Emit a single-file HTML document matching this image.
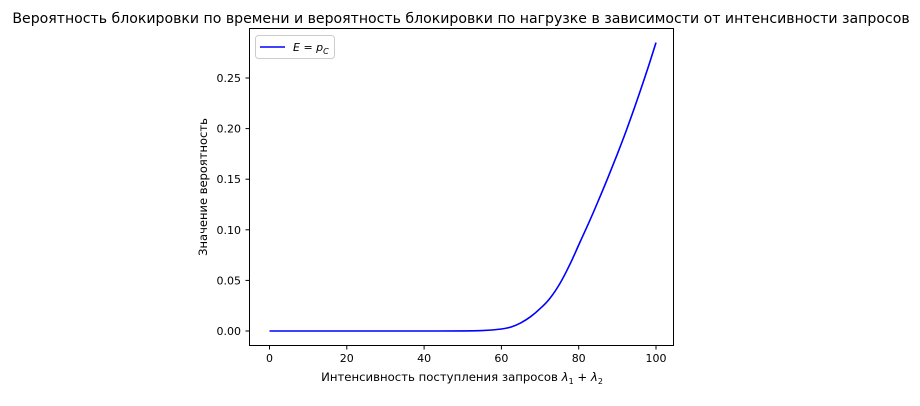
<!DOCTYPE html>
<html><head><meta charset="utf-8"><style>
body{margin:0;background:#fff;font-family:"Liberation Sans","DejaVu Sans",sans-serif}
svg text{font-family:"DejaVu Sans","Liberation Sans",sans-serif;fill:#000}
</style></head><body>
<svg width="920" height="401" xmlns="http://www.w3.org/2000/svg">
<text x="461" y="23" font-size="14.1" text-anchor="middle">Вероятность блокировки по времени и вероятность блокировки по нагрузке в зависимости от интенсивности запросов</text>
<g id="axes"></g>
<path id="line" fill="none" stroke="#0000ff" stroke-width="1.6"/>
<rect x="249.5" y="28.5" width="424" height="317" fill="none" stroke="#000" stroke-width="1"/>
<g>
<rect x="255.5" y="35.5" width="79" height="23" rx="3" fill="#fff" stroke="#ccc"/>
<line x1="260" y1="47" x2="285" y2="47" stroke="#0000ff" stroke-width="1.6"/>
<text x="293" y="51" font-size="11" font-style="italic">E = p<tspan font-size="8" dy="3">C</tspan></text>
</g>
<text x="462" y="381" font-size="11.7" text-anchor="middle">Интенсивность поступления запросов <tspan font-style="italic">λ</tspan><tspan font-size="8" dy="3">1</tspan><tspan dy="-3"> + </tspan><tspan font-style="italic">λ</tspan><tspan font-size="8" dy="3">2</tspan></text>
<text transform="translate(207,187) rotate(-90)" font-size="11.5" text-anchor="middle">Значение вероятность</text>
</svg>
<script>
const xs=[0,10,20,30,40,50,55,60,62.5,65,67.5,70,72.5,75,77.5,80,82.5,85,87.5,90,92.5,95,97.5,100];
const ys=[0,0,0,0,0,0.00005,0.0004,0.002,0.004,0.008,0.014,0.022,0.032,0.046,0.064,0.085,0.106,0.128,0.151,0.175,0.200,0.227,0.255,0.285];
const xTicks=[0,20,40,60,80,100];
const yTicks=[0,0.05,0.10,0.15,0.20,0.25];
const X=v=>269.5+v*3.865, Y=v=>331-v*1012;
const ns="http://www.w3.org/2000/svg", ax=document.getElementById('axes');
function mk(t,a){const e=document.createElementNS(ns,t);for(const k in a)e.setAttribute(k,a[k]);ax.appendChild(e);return e;}
xTicks.forEach(v=>{
 const l=mk('line',{x1:X(v),x2:X(v),y1:345.5,y2:349.5,stroke:'#000'});
 
 
 const t=mk('text',{x:X(v),y:362,'font-size':11,'text-anchor':'middle'});t.textContent=v;
 
 
});
yTicks.forEach(v=>{
 const l=mk('line',{x1:245.5,x2:249.5,y1:Y(v),y2:Y(v),stroke:'#000'});
 
 
 const t=mk('text',{x:241,y:Y(v)+4,'font-size':11,'text-anchor':'end'});t.textContent=v.toFixed(2);
 
 
});
const P=xs.map((x,i)=>[X(x),Y(ys[i])]);
let d='M'+P[0][0].toFixed(1)+','+P[0][1].toFixed(1);
for(let i=0;i<P.length-1;i++){
 const p0=P[Math.max(0,i-1)],p1=P[i],p2=P[i+1],p3=P[Math.min(P.length-1,i+2)];
 const c1=[p1[0]+(p2[0]-p0[0])/6,p1[1]+(p2[1]-p0[1])/6];
 const c2=[p2[0]-(p3[0]-p1[0])/6,p2[1]-(p3[1]-p1[1])/6];
 d+='C'+c1.map(v=>v.toFixed(1))+' '+c2.map(v=>v.toFixed(1))+' '+p2.map(v=>v.toFixed(1));
}
document.getElementById('line').setAttribute('d',d);
</script>
</body></html>
